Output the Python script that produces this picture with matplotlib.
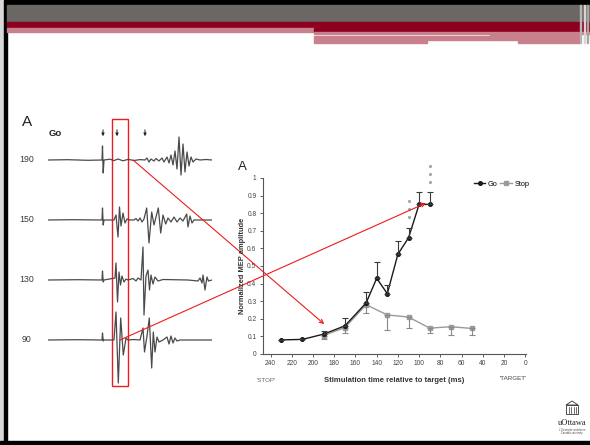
import numpy as np
import matplotlib
matplotlib.use("Agg")
import matplotlib.pyplot as plt
from matplotlib.patches import Rectangle, ConnectionPatch, Polygon

plt.rcParams['font.family'] = ['Liberation Sans', 'DejaVu Sans']

# ---- chart data (right panel) ----
go_x = [230, 210, 190, 170, 150, 140, 130, 120, 110, 100, 90]
go_y = [0.08, 0.083, 0.113, 0.16, 0.29, 0.43, 0.343, 0.567, 0.66, 0.85, 0.85]
go_err = [0.0, 0.0, 0.02, 0.045, 0.06, 0.09, 0.047, 0.073, 0.055, 0.07, 0.07]

stop_x = [190, 170, 150, 130, 110, 90, 70, 50]
stop_y = [0.105, 0.15, 0.28, 0.222, 0.21, 0.147, 0.155, 0.145]
stop_err = [0.02, 0.03, 0.045, 0.087, 0.065, 0.03, 0.045, 0.035]

star_x = [110, 110, 110, 90, 90, 90]
star_y = [0.87, 0.823, 0.777, 1.068, 1.022, 0.975]

xticks = [240, 220, 200, 180, 160, 140, 120, 100, 80, 60, 40, 20, 0]
yticks = [0, 0.1, 0.2, 0.3, 0.4, 0.5, 0.6, 0.7, 0.8, 0.9, 1]
ytick_labels = ['0', '0.1', '0.2', '0.3', '0.4', '0.5', '0.6', '0.7', '0.8', '0.9', '1']

# ---- EMG traces (left panel), time in samples, deflection up positive ----
trace_labels = ['190', '150', '130', '90']
t190 = [0, 20, 40, 54, 54.5, 55.2, 56, 62, 66, 70, 75, 80, 86, 92, 97, 99, 101, 103, 106, 108,
        111, 114, 116, 119, 121, 123, 125, 127, 129, 131, 133, 135, 137, 139, 141, 143, 145,
        148, 152, 158, 164]
v190 = [0, 0.3, -0.3, 0, 14, -13, 0, 0.8, -0.6, 1, -0.8, 0.6, -0.5, 0.4, 0, 2, -2, 1, -1, 1.5,
        -1, 2, -2, 3, -3, 5, -5, 9, -9, 23, -15, 16, -12, 8, -6, 3, -2,
        1, 0, 0.5, 0]
t150 = [0, 25, 54, 54.5, 55.2, 56, 66, 68, 70, 71.5, 73, 75, 77, 79, 82, 86, 88, 90, 92, 94, 96,
        98.7, 101, 103.7, 106, 110.3, 112.7, 115, 117.7, 120, 123, 126, 129, 132, 135, 138.7,
        140, 142, 144, 146, 164]
v150 = [0, 0.3, 0, 12, -5, 0, 0, 5, -17, 13, -6, 7, -3, 1, 0, 0, 1.5, -1, 2, -2, 1,
        12, -23, 8, -5, 12, -13, 5, -4, 2, -2, 3, -2, 2, -1, 6,
        -7, 4, -3, 0, 0]
t130 = [0, 30, 54, 54.5, 55.2, 56, 67, 68, 69.5, 71, 72.5, 74, 76, 78, 80, 85, 88, 90, 93,
        95, 96, 98, 100, 101.5, 103, 105, 107, 110, 115, 140, 150, 152, 154, 155, 157, 159,
        160.5, 164]
v130 = [0, 0.3, 0, 9, -2, 0, 2, 17, -22, 8, -5, 4, -2, 1, 0, 1.5, -1, 2, 0,
        33, -35, 4, 10, -10, 5, -4, 3, -1, 0.5, 0, -1, 2, -3, 5, -10, 3,
        -1, 0]
t90 = [0, 30, 54, 54.5, 55.2, 56, 66, 68, 70.3, 72.7, 75.3, 78, 80, 86, 92, 95, 96.5, 99,
       101.3, 103.7, 105.3, 107, 109, 111, 115, 119, 121, 123, 125, 127, 129, 132, 140, 164]
v90 = [0, 0.3, 0, 7, -1, 0, 0, 28, -43, 22, -15, 2, 0, 0.5, 0, 12, -12, 4,
       22, -28, 8, -12, 3, -2, 0, 3, -4, 4, -3, 2, -1, 0, 0, 0]
trace_t = [t190, t150, t130, t90]
trace_v = [v190, v150, v130, v90]

W, H = 590, 445
fig = plt.figure(figsize=(W / 100, H / 100), dpi=100)


def fx(x):
    return x / W


def fy(y):
    return 1 - y / H


# ---- right chart ----
ax = fig.add_axes([fx(262.7), fy(354), (526 - 262.7) / W, 176 / H])
stop_line, = ax.plot(stop_x, stop_y, color='#9a9a9a', lw=1.0, marker='s', ms=2.3, zorder=2)
ax.errorbar(stop_x, stop_y, yerr=[stop_err, [0] * len(stop_err)], fmt='none',
            ecolor='#8a8a8a', elinewidth=0.8, capsize=2, capthick=0.8, zorder=2)
go_line, = ax.plot(go_x, go_y, color='#1a1a1a', lw=1.0, marker='o', ms=2.6, zorder=3)
ax.errorbar(go_x, go_y, yerr=[[0] * len(go_err), go_err], fmt='none',
            ecolor='#3a3a3a', elinewidth=0.8, capsize=2, capthick=0.8, zorder=3)
ax.plot(star_x, star_y, ls='none', marker=(6, 2, 0), ms=2.2, mew=0.6, color='#aaaaaa',
        clip_on=False)
ax.set_xlim(247.5, -0.8)
ax.set_ylim(0, 1)
ax.set_xticks(xticks)
ax.set_yticks(yticks)
ax.set_yticklabels(ytick_labels)
ax.tick_params(labelsize=4.8, length=2.5, width=0.6, colors='#444444', pad=2)
for s in ['top', 'right']:
    ax.spines[s].set_visible(False)
for s in ['left', 'bottom']:
    ax.spines[s].set_color('#555555')
    ax.spines[s].set_linewidth(0.8)
ax.legend(handles=[go_line, stop_line], labels=['Go', 'Stop'],
          loc='center left', bbox_to_anchor=(fx(470), fy(184)), bbox_transform=fig.transFigure,
          ncol=2, frameon=False, fontsize=5.3, handlelength=1.6, handletextpad=0.3,
          columnspacing=0.4, borderpad=0)

fig.text(fx(242), fy(167), 'A', fontsize=9.5, ha='center', va='center', color='#222222')
fig.text(fx(243), fy(266), 'Normalized MEP amplitude', rotation=90, fontsize=5.4,
         fontweight='bold', ha='center', va='center', color='#333333')
fig.text(fx(394), fy(380), 'Stimulation time relative to target (ms)', fontsize=5.5,
         fontweight='bold', ha='center', va='center', color='#333333')
fig.text(fx(266), fy(381), "'STOP'", fontsize=4.5, ha='center', va='center', color='#666666')
fig.text(fx(513), fy(379), "'TARGET'", fontsize=4.5, ha='center', va='center', color='#444444')

# ---- left traces ----
axt = fig.add_axes([fx(48), fy(390), 164 / W, 275 / H])
axt.set_xlim(0, 164)
axt.set_ylim(-230, 45)
axt.axis('off')
for i, (tt, vv) in enumerate(zip(trace_t, trace_v)):
    base = -60 * i
    axt.plot(tt, np.array(vv) + base, color='#4a4a4a', lw=0.9)
    fig.text(fx(27), fy(160 + 60 * i), trace_labels[i], fontsize=6.3, ha='center', va='center',
             color='#3a3a3a')
for t in [55, 69, 97]:
    axt.annotate('', xy=(t, 21), xytext=(t, 33),
                 arrowprops=dict(arrowstyle='-|>', lw=0.7, color='#222222', mutation_scale=4))
axt.add_patch(Rectangle((64, -226), 16, 267, fill=False, ec='#ee1c1c', lw=1.0, clip_on=False))
fig.text(fx(27), fy(122), 'A', fontsize=11, ha='center', va='center', color='#222222')
fig.text(fx(55), fy(133), 'Go', fontsize=6.8, fontweight='bold', ha='center', va='center',
         color='#222222')

# red connecting arrows
for (ta, va_), (xb, yb) in [((85, 0), (189.5, 0.17)), ((72, -180), (93.5, 0.858))]:
    con = ConnectionPatch(xyA=(ta, va_), xyB=(xb, yb), coordsA=axt.transData,
                          coordsB=ax.transData, arrowstyle='->', color='#ee1c1c', lw=0.8,
                          mutation_scale=7)
    fig.add_artist(con)

# ---- slide decoration ----
ov = fig.add_axes([0, 0, 1, 1], zorder=-1)
ov.set_xlim(0, W)
ov.set_ylim(H, 0)
ov.axis('off')
ov.add_patch(Rectangle((0, 0), W, 5, color='black'))
ov.add_patch(Rectangle((0, 0), 4, H, color='#d8d8d8'))
ov.add_patch(Rectangle((4, 0), 3, H, color='black'))
ov.add_patch(Rectangle((0, 441), W, 4, color='black'))
ov.add_patch(Rectangle((7, 5), W - 7, 17, color='#6b6765'))
ov.add_patch(Rectangle((7, 22), W - 7, 6, color='#8e0020'))
ov.add_patch(Rectangle((7, 28), 307, 4, color='#c9808d'))
ov.add_patch(Rectangle((314, 28), W - 314, 4, color='#8e0020'))
ov.add_patch(Rectangle((314, 32), W - 314, 1.5, color='#c9808d'))
ov.add_patch(Rectangle((314, 35.5), 113, 7.5, color='#c9808d'))
ov.add_patch(Rectangle((427, 35.5), 91, 4.5, color='#c9808d'))
ov.add_patch(Rectangle((490, 33.5), 28, 2, color='#c9808d'))
ov.add_patch(Rectangle((518, 33.5), 62, 9, color='#c9808d'))
for xs, c in [(580, '#b9b5b3'), (584, '#d9d5d3'), (587, '#a9a5a3')]:
    ov.add_patch(Rectangle((xs, 5), 1.2, 38, color=c))

# uOttawa logo
ov.add_patch(Polygon([[566, 405], [572, 401], [578, 405]], closed=True, fill=False,
                     ec='#333333', lw=0.6))
ov.add_patch(Rectangle((566, 405), 12, 9, fill=False, ec='#333333', lw=0.6))
for xc in [568.5, 571, 573.5, 576]:
    ov.plot([xc, xc], [406.5, 412.5], color='#333333', lw=0.5)
ov.text(572, 423, 'uOttawa', fontsize=6, family='Liberation Serif', ha='center', va='center',
        color='#222222')
ov.text(572, 430, "L'Université canadienne", fontsize=1.8, ha='center', va='center',
        color='#444444')
ov.text(572, 433, "Canada's university", fontsize=1.8, ha='center', va='center',
        color='#444444')

fig.savefig('out.png', dpi=100)
